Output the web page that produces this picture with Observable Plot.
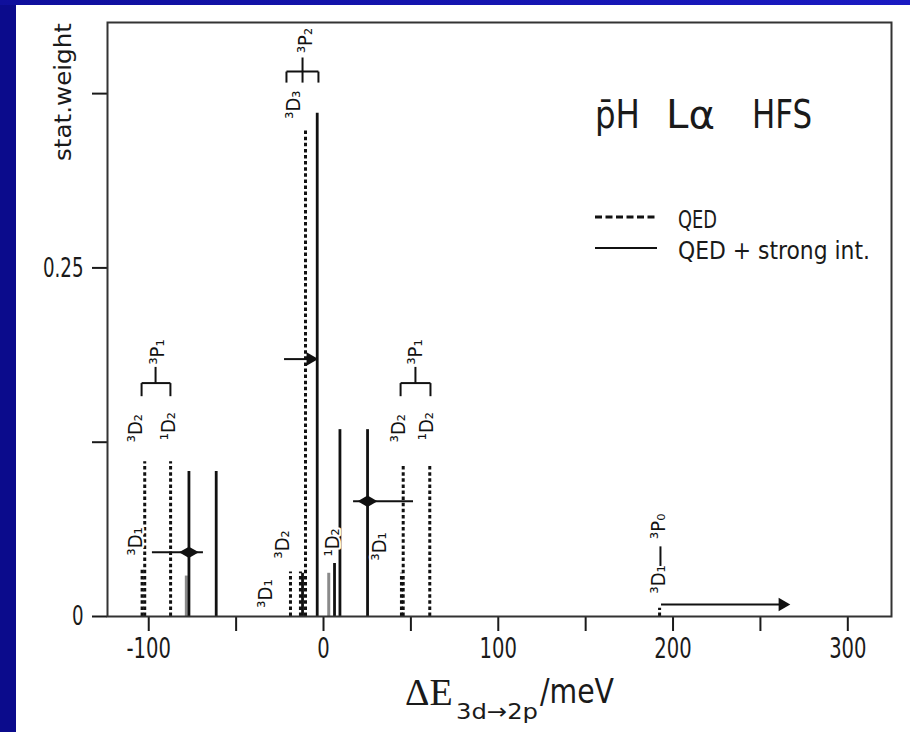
<!DOCTYPE html>
<html><head><meta charset="utf-8">
<script src="https://cdn.jsdelivr.net/npm/d3@7"></script>
<script src="https://cdn.jsdelivr.net/npm/@observablehq/plot@0.6"></script>
<style>
html,body{margin:0;padding:0;}
body{width:910px;height:732px;overflow:hidden;background:#0b0b8c;position:relative;}
#topbar{position:absolute;left:0;top:0;width:910px;height:5px;background:linear-gradient(90deg,#0f0f9c,#1a1ac2);}
#paper{position:absolute;left:16px;top:5px;width:894px;height:727px;background:#fff;}
#overlay{position:absolute;left:0;top:0;pointer-events:none;}
.cond{font-family:"DejaVu Sans Condensed","Liberation Sans Narrow","Roboto Condensed","Liberation Sans",sans-serif;}
</style>
</head><body>
<div id="topbar"></div>
<div id="paper"></div>
<svg id="overlay" width="910" height="732" xmlns="http://www.w3.org/2000/svg">
  <g class="cond" fill="#1a1a1a">
    <text transform="translate(71,92) rotate(-90)" text-anchor="middle" font-size="23" textLength="138" lengthAdjust="spacingAndGlyphs">stat.weight</text>
    <text x="595" y="128" font-size="39" textLength="45" lengthAdjust="spacingAndGlyphs">p̄H</text>
    <text x="666" y="128" font-size="39" textLength="49" lengthAdjust="spacingAndGlyphs">Lα</text>
    <text x="752" y="128" font-size="39" textLength="60" lengthAdjust="spacingAndGlyphs">HFS</text>
    <line x1="595" x2="657" y1="217" y2="217" stroke="#111" stroke-width="3" stroke-dasharray="7,3.5"/>
    <text x="678" y="228" font-size="24" textLength="39" lengthAdjust="spacingAndGlyphs">QED</text>
    <line x1="595" x2="657" y1="248" y2="248" stroke="#111" stroke-width="2"/>
    <text x="678" y="259" font-size="24" textLength="192" lengthAdjust="spacingAndGlyphs">QED + strong int.</text>
    <text x="405" y="705" font-size="38" font-family="Liberation Serif, DejaVu Serif, serif">ΔE</text>
    <text x="456" y="719" font-size="22" textLength="82" lengthAdjust="spacingAndGlyphs">3d→2p</text>
    <text x="540" y="703" font-size="33" textLength="74" lengthAdjust="spacingAndGlyphs">/meV</text>
  </g>
</svg>
<script>
// ---- data (meV, statistical weight) ----
const qedX = [-103.8, -102.3, -87.5, -18.9, -13.2, -10.3, 44.6, 45.6, 60.8, 192.3];
const qedW = [0.034, 0.111, 0.111, 0.032, 0.032, 0.350, 0.031, 0.109, 0.109, 0.006];

const strongX = [-77.0, -61.4, -12.0, -3.6, 6.3, 9.4, 25.2];
const strongW = [0.104, 0.104, 0.031, 0.361, 0.038, 0.134, 0.134];

const faintX = [-78.5, 3.0];
const faintW = [0.029, 0.031];

const shiftY  = [0.046, 0.0826];
const shiftX1 = [-97.9, 17.2];
const shiftX2 = [-68.7, 51.5];
const shiftMark = [-77.0, 25.2];

const arrowY  = [0.1846, 0.0086];
const arrowX1 = [-22.3, 193.4];
const arrowX2 = [-4.6, 265.5];

const bracketLegs = [[-104.1, -87.6], [-21.2, -12.0, -2.9], [44.1, 61.2]];
const bracketBarY = [0.1674, 0.3908, 0.1674];
const bracketFootY = [0.158, 0.3829, 0.158];
const bracketStemX = [-96.1, -12.0, 52.6];
const bracketStemTopY = [0.179, 0.4009, 0.179];
const connX = [192.8], connY1 = [0.0359], connY2 = [0.0503];

const labelText = ["³D₁","³D₂","¹D₂","³P₁","³D₃","³P₂","³D₁","³D₂","¹D₂","³D₁","³D₂","¹D₂","³P₁","³D₁","³P₀"];
const labelX = [-107.6,-107.6,-88.7,-95.0,-17.2,-10.3,-33.2,-23.5,5.2,32.0,42.9,58.9,52.6,191.7,191.7];
const labelY = [0.0539,0.1351,0.1365,0.1897,0.3671,0.4131,0.0165,0.0517,0.0532,0.0503,0.1351,0.1365,0.1897,0.0266,0.0647];

const xTicks = [-100,-50,0,50,100,150,200,250,300];
const xTickLabels = ["-100","","0","","100","","200","","300"];
const yTicks = [0,0.125,0.25,0.375];
const yTickLabels = ["0","","0.25",""];

// ---- tables ----
const qed = qedX.map((x,i)=>({x, w:qedW[i]}));
const strong = strongX.map((x,i)=>({x, w:strongW[i]}));
const faint = faintX.map((x,i)=>({x, w:faintW[i]}));
const shifts = shiftY.map((y,i)=>({y, x1:shiftX1[i], x2:shiftX2[i], m:shiftMark[i]}));
const arrows = arrowY.map((y,i)=>({y, x1:arrowX1[i], x2:arrowX2[i]}));
const segs = [];
bracketLegs.forEach((legs,i)=>{
  segs.push({x1:d3.min(legs), x2:d3.max(legs), y1:bracketBarY[i], y2:bracketBarY[i]});
  legs.forEach(l=>segs.push({x1:l, x2:l, y1:bracketBarY[i], y2:bracketFootY[i]}));
  segs.push({x1:bracketStemX[i], x2:bracketStemX[i], y1:bracketBarY[i], y2:bracketStemTopY[i]});
});
connX.forEach((x,i)=>segs.push({x1:x, x2:x, y1:connY1[i], y2:connY2[i]}));
const labels = labelText.map((t,i)=>({t, x:labelX[i], y:labelY[i]}));

const FONT = '"DejaVu Sans Condensed","Liberation Sans Narrow","Roboto Condensed","Liberation Sans",sans-serif';
const W = 894, H = 672;
const chart = Plot.plot({
  width: W, height: H,
  marginLeft: 91, marginRight: 19, marginTop: 17, marginBottom: H - 611,
  x: {domain: [-123.6, 325]},
  y: {domain: [0, 0.426]},
  style: {fontFamily: FONT, fontSize: "29px", color: "#1a1a1a", background: "transparent", overflow: "visible"},
  marks: [
    Plot.axisX({ticks: xTicks, tickSize: 15, tickPadding: 6, strokeWidth: 2, label: null,
      tickFormat: d => xTickLabels[xTicks.indexOf(d)]}),
    Plot.axisY({ticks: yTicks, tickSize: 15, tickPadding: 9, strokeWidth: 2, label: null, fontSize: 27,
      tickFormat: d => yTickLabels[yTicks.indexOf(d)]}),
    Plot.ruleX(qed, {x: "x", y1: 0, y2: "w", stroke: "#111", strokeWidth: 3, strokeDasharray: "3.5,2.6"}),
    Plot.ruleX(faint, {x: "x", y1: 0, y2: "w", stroke: "#8a8a8a", strokeWidth: 3}),
    Plot.ruleX(strong, {x: "x", y1: 0, y2: "w", stroke: "#111", strokeWidth: 2.8}),
    Plot.ruleY(shifts, {y: "y", x1: "x1", x2: "x2", stroke: "#111", strokeWidth: 2}),
    Plot.dot(shifts, {x: "m", y: "y", symbol: "diamond", r: 6, rotate: 90, fill: "#111"}),
    Plot.ruleY(arrows, {y: "y", x1: "x1", x2: "x2", stroke: "#111", strokeWidth: 2}),
    Plot.dot(arrows, {x: "x2", y: "y", symbol: "triangle", r: 5, rotate: 90, dx: -5, fill: "#111"}),
    Plot.link(segs, {x1: "x1", x2: "x2", y1: "y1", y2: "y2", stroke: "#111", strokeWidth: 2}),
    Plot.text(labels, {x: "x", y: "y", text: "t", rotate: -90, fontSize: 20, fill: "#111", stroke: "white", strokeWidth: 4}),
    Plot.frame({stroke: "#333", strokeWidth: 2})
  ]
});
// condense the tick labels horizontally (the original uses a narrow face)
chart.querySelectorAll('g[aria-label$="tick label"] text').forEach(t => {
  const tr = t.getAttribute("transform") || "";
  const x = +t.getAttribute("x") || 0, y = +t.getAttribute("y") || 0;
  t.setAttribute("transform", `${tr} translate(${x},${y}) scale(0.75,1) translate(${-x},${-y})`);
});
document.getElementById("paper").appendChild(chart);
</script>
</body></html>
